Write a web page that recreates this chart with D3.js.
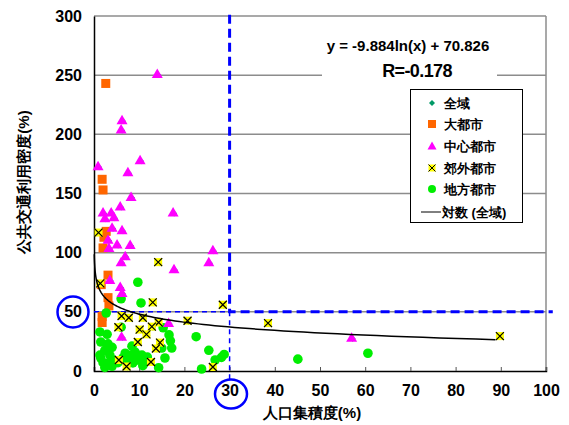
<!DOCTYPE html>
<html>
<head>
<meta charset="utf-8">
<script src="https://cdn.jsdelivr.net/npm/d3@7"></script>
<style>
  body { margin: 0; background: #fff; }
  svg text { font-family: "Liberation Sans", Arial, sans-serif; }
</style>
</head>
<body>
<svg id="chart" width="569" height="425"></svg>
<script>
// data: [人口集積度, 公共交通利用密度]
const daitoshi = [[2.6,243],[1.8,162],[2.0,153],[2.7,118],[2.2,113],[2.0,104],[3.1,81],[1.6,73],[3.1,62],[3.3,55],[1.8,46],[1.8,41]];
const chushin = [[14,251],[6.2,212],[6.0,204],[10.2,178],[0.9,173],[7.5,168],[8.2,147],[5.8,139],[17.5,134],[2.0,134],[3.8,134],
  [4.4,130],[2.4,129],[4.0,121],[6.2,119],[3.1,111],[5.1,107],[8.0,106.5],[3.3,104],[6.9,97],[6.0,92],[26.3,102],[25.4,92],
  [17.7,86],[3.5,77],[5.8,71],[6.2,66],[16.5,40.5],[6.1,29],[57,28]];
const kogai = [[1.0,117],[1.4,74],[14.2,92],[13.0,58],[28.5,56],[38.5,40.5],[89.8,29.5],[26.3,3.4],[20.7,42.5],[6.1,46.5],[7.7,45],
  [10.8,45],[14.3,41],[5.4,37],[10.1,35],[12.8,37.5],[11.6,31],[9.7,24.5],[14.6,24],[13.7,19],[5.5,9.3],[7.2,3.8],[12.6,7.6]];
const chiho = [[9.7,75],[6.0,61],[10.4,57.5],[2.7,49],[6.0,37],[1.3,33],[2.9,31],[15.3,36.5],[16.6,30.5],[22.6,29],[16.9,25.5],
  [1.5,24.5],[3.1,23],[4.0,20],[8.4,21],[2.4,17.5],[9.1,16],[15.0,19.4],[17.2,19.4],[25.4,17.5],[1.3,13.5],[3.5,13.5],[6.9,15],
  [8.2,13.5],[10.6,13.5],[1.5,11],[4.2,9.5],[6.4,11],[9.7,9.3],[11.8,11.8],[15.7,11],[2.0,7],[2.9,6.5],[5.3,7],[7.5,7.6],[8.6,6.8],
  [11.3,7.6],[2.7,5],[4.0,4],[2.4,3],[10.8,4.5],[14.3,2.8],[23.8,1.7],[26.8,9.3],[28.2,11.5],[28.8,14],[45.1,10],[60.6,15]];

const xTicks = [0,10,20,30,40,50,60,70,80,90,100];
const yTicks = [0,50,100,150,200,250,300];
const trendCoef = [-9.884, 70.826];   // y = a ln(x) + b
const trendRange = [0.06, 90];
const kijun = [30, 50];               // 基準線
const legendNames = ["全域","大都市","中心都市","郊外都市","地方都市","対数 (全域)"];

const svg = d3.select("#chart");
const x = d3.scaleLinear().domain([0,100]).range([94,546]);
const y = d3.scaleLinear().domain([0,300]).range([371,16]);

// grid
svg.append("g").selectAll("line").data(yTicks.filter(d => d > 0)).join("line")
  .attr("x1", x(0)).attr("x2", x(100)).attr("y1", d => y(d)).attr("y2", d => y(d))
  .attr("stroke", "#8c8c8c").attr("stroke-width", 1.5);
svg.append("line").attr("x1", x(100)).attr("x2", x(100)).attr("y1", y(300)).attr("y2", y(0))
  .attr("stroke", "#8c8c8c").attr("stroke-width", 1.5);

// equation box
svg.append("rect").attr("x", 322).attr("y", 32).attr("width", 175).attr("height", 52).attr("fill", "#fff");
svg.append("text").attr("x", 408).attr("y", 51).attr("text-anchor", "middle")
  .attr("font-size", 15).attr("font-weight", "bold").text("y = -9.884ln(x) + 70.826");
svg.append("text").attr("x", 417).attr("y", 77).attr("text-anchor", "middle")
  .attr("font-size", 18).attr("font-weight", "bold").attr("letter-spacing", -0.6).text("R=-0.178");

// axes
const xAxis = svg.append("g").attr("transform", `translate(0,${y(0)})`)
  .call(d3.axisBottom(x).tickValues(xTicks).tickSize(-4).tickPadding(14));
xAxis.select(".domain").attr("stroke", "#000").attr("stroke-width", 1.5);
xAxis.selectAll(".tick line").attr("stroke", "#555");
xAxis.selectAll("text").attr("font-size", 16).attr("font-weight", "bold").attr("fill", "#000");

const yAxis = svg.append("g").attr("transform", `translate(${x(0)},0)`)
  .call(d3.axisLeft(y).tickValues(yTicks).tickSize(0).tickPadding(12));
yAxis.select(".domain").attr("stroke", "#000").attr("stroke-width", 1.5);
yAxis.selectAll("text").attr("font-size", 16).attr("font-weight", "bold").attr("fill", "#000");

svg.append("text").attr("transform", "translate(29,182) rotate(-90)").attr("text-anchor", "middle")
  .attr("font-size", 15).attr("font-weight", "bold").text("公共交通利用密度(%)");
svg.append("text").attr("x", 312).attr("y", 418).attr("text-anchor", "middle")
  .attr("font-size", 15).attr("font-weight", "bold").text("人口集積度(%)");

// blue reference lines
const blue = "#0000ff";
svg.append("path")
  .attr("d", `M${x(kijun[0])},${y(301)}V${y(kijun[1])}H${x(101.5)}`)
  .attr("fill", "none").attr("stroke", blue).attr("stroke-width", 3).attr("stroke-dasharray", "9,5");
svg.append("path")
  .attr("d", `M${x(0)},${y(kijun[1])}H${x(kijun[0])}V${y(-8)}`)
  .attr("fill", "none").attr("stroke", blue).attr("stroke-width", 1.5).attr("stroke-dasharray", "5,4");

// marks
const all = [].concat(daitoshi, chushin, kogai, chiho);
const tri = "M0,-5.5L5.5,4L-5.5,4Z";

svg.append("g").selectAll("path").data(all).join("path")
  .attr("d", "M0,-3L3,0L0,3L-3,0Z").attr("fill", "#009966")
  .attr("transform", d => `translate(${x(d[0]) + 1},${y(d[1]) + 1})`);

svg.append("g").selectAll("rect").data(daitoshi).join("rect")
  .attr("x", d => x(d[0]) - 4.5).attr("y", d => y(d[1]) - 4.5)
  .attr("width", 9).attr("height", 9).attr("fill", "#ff6600");

svg.append("g").selectAll("circle").data(chiho).join("circle")
  .attr("cx", d => x(d[0])).attr("cy", d => y(d[1])).attr("r", 4.8).attr("fill", "#00ee00");

svg.append("g").selectAll("path").data(chushin).join("path")
  .attr("d", tri).attr("fill", "#ff00ff")
  .attr("transform", d => `translate(${x(d[0])},${y(d[1])})`);

const xs = svg.append("g").selectAll("g").data(kogai).join("g")
  .attr("transform", d => `translate(${x(d[0])},${y(d[1])})`);
xs.append("rect").attr("x", -4).attr("y", -4).attr("width", 8).attr("height", 8).attr("fill", "#ffff00");
xs.append("path").attr("d", "M-4,-4L4,4M4,-4L-4,4").attr("stroke", "#000").attr("stroke-width", 1.2);

// trend line
const trendX = d3.range(Math.log(trendRange[0]), Math.log(trendRange[1]) + 0.01, 0.05).map(Math.exp);
svg.append("path")
  .datum(trendX)
  .attr("d", d3.line().x(d => x(d)).y(d => y(trendCoef[0] * Math.log(d) + trendCoef[1])))
  .attr("fill", "none").attr("stroke", "#000").attr("stroke-width", 1.5);

// circled labels
svg.append("ellipse").attr("cx", 73).attr("cy", 312).attr("rx", 15.5).attr("ry", 15.5)
  .attr("fill", "none").attr("stroke", blue).attr("stroke-width", 2.5);
svg.append("ellipse").attr("cx", 231).attr("cy", 394).attr("rx", 16).attr("ry", 14.5)
  .attr("fill", "none").attr("stroke", blue).attr("stroke-width", 2.5);

// legend
const lg = svg.append("g");
lg.append("rect").attr("x", 410.5).attr("y", 89.5).attr("width", 112).attr("height", 133)
  .attr("fill", "#fff").attr("stroke", "#000").attr("stroke-width", 1);
const rowY = [103, 124, 146, 168, 189, 212];
legendNames.forEach((name, i) => {
  const cy = rowY[i], cx = 432;
  const g = lg.append("g").attr("transform", `translate(${cx},${cy})`);
  if (i === 0) g.append("path").attr("d", "M0,-3L3,0L0,3L-3,0Z").attr("fill", "#009966");
  if (i === 1) g.append("rect").attr("x", -4).attr("y", -4).attr("width", 8).attr("height", 8).attr("fill", "#ff6600");
  if (i === 2) g.append("path").attr("d", "M0,-4.5L4.5,3.5L-4.5,3.5Z").attr("fill", "#ff00ff");
  if (i === 3) {
    g.append("rect").attr("x", -3.5).attr("y", -3.5).attr("width", 7).attr("height", 7).attr("fill", "#ffff00");
    g.append("path").attr("d", "M-3.5,-3.5L3.5,3.5M3.5,-3.5L-3.5,3.5").attr("stroke", "#000");
  }
  if (i === 4) g.append("circle").attr("r", 4).attr("fill", "#00ee00");
  if (i === 5) g.append("line").attr("x1", -11).attr("x2", 9).attr("stroke", "#000").attr("stroke-width", 1);
  lg.append("text").attr("x", i === 5 ? 442 : 444).attr("y", cy + 5)
    .attr("font-size", 13).attr("font-weight", "bold").text(name);
});
</script>
</body>
</html>
